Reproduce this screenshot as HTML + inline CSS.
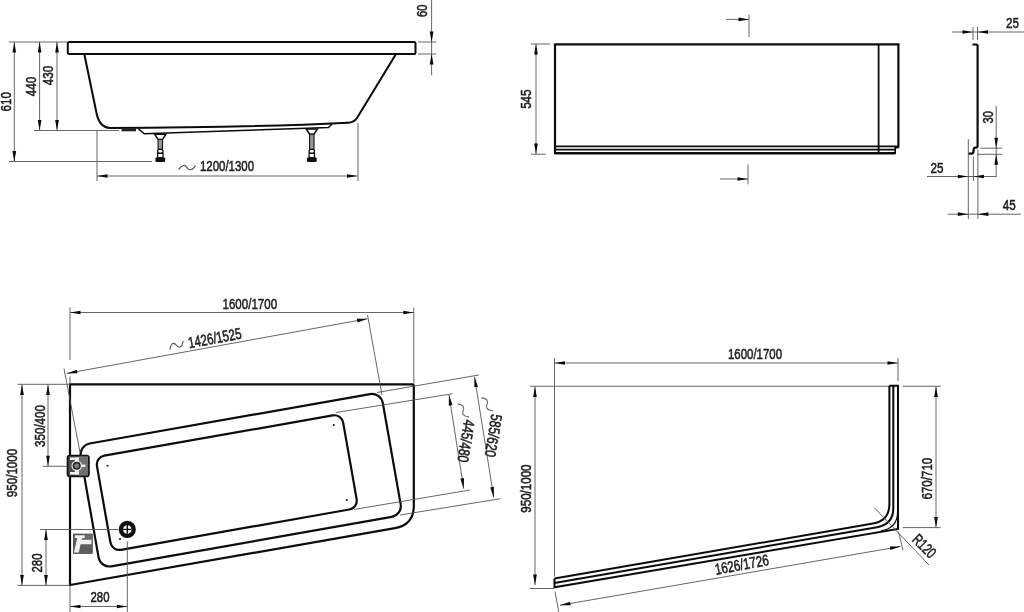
<!DOCTYPE html>
<html><head><meta charset="utf-8"><style>
html,body{margin:0;padding:0;background:#fff;width:1024px;height:612px;overflow:hidden}
svg{display:block;filter:grayscale(1)}
text{font-family:"Liberation Sans",sans-serif}
</style></head><body>
<svg width="1024" height="612" viewBox="0 0 1024 612">
<rect width="1024" height="612" fill="#fff"/>
<path d="M69.3,42 L414,42 Q415.5,42 415.5,43.5 L415.5,52.5 Q415.5,54 414,54 L69.3,54 Q67.8,54 67.8,52.5 L67.8,43.5 Q67.8,42 69.3,42 Z" stroke="#0c0c0c" stroke-width="2.0" fill="none" />
<path d="M84.3,54 L96.5,113 Q99.5,127.5 110,128 Q250,127.5 348,122.7 Q354,122.5 357,118 L396,54" stroke="#0c0c0c" stroke-width="2.05" fill="none" />
<path d="M138.2,128.6 L144.3,133.8 L328.5,127.5 L332,124" stroke="#0c0c0c" stroke-width="1.5" fill="none" />
<rect x="121.5" y="128.3" width="14.5" height="3" fill="#222"/>
<path d="M154.70000000000002,134.3 L165.9,134.3 L162.5,139.5 L158.10000000000002,139.5 Z" stroke="#0c0c0c" stroke-width="1.5" fill="#fff" />
<rect x="158.10000000000002" y="139.5" width="4.4" height="9.80" fill="#999" stroke="#111" stroke-width="1.1"/>
<rect x="157.60000000000002" y="149.3" width="5.4" height="4" rx="2" fill="#fff" stroke="#111" stroke-width="1.3"/>
<rect x="157.60000000000002" y="153.3" width="5.4" height="4.4" fill="#fff" stroke="#111" stroke-width="1.3"/>
<rect x="155.4" y="157.5" width="9.8" height="4.6" rx="1" fill="#111"/>
<path d="M306.2,129.0 L317.40000000000003,129.0 L314.0,134.2 L309.6,134.2 Z" stroke="#0c0c0c" stroke-width="1.5" fill="#fff" />
<rect x="309.6" y="134.2" width="4.4" height="15.10" fill="#999" stroke="#111" stroke-width="1.1"/>
<rect x="309.1" y="149.3" width="5.4" height="4" rx="2" fill="#fff" stroke="#111" stroke-width="1.3"/>
<rect x="309.1" y="153.3" width="5.4" height="4.4" fill="#fff" stroke="#111" stroke-width="1.3"/>
<rect x="306.90000000000003" y="157.5" width="9.8" height="4.6" rx="1" fill="#111"/>
<line x1="9.00" y1="42.00" x2="67.00" y2="42.00" stroke="#555" stroke-width="0.9"/>
<line x1="14.30" y1="42.00" x2="14.30" y2="161.50" stroke="#555" stroke-width="0.9"/>
<path d="M14.30,42.00 L16.15,52.50 L12.45,52.50 Z" fill="#0a0a0a"/>
<path d="M14.30,161.50 L12.45,151.00 L16.15,151.00 Z" fill="#0a0a0a"/>
<line x1="39.60" y1="42.00" x2="39.60" y2="130.40" stroke="#555" stroke-width="0.9"/>
<path d="M39.60,42.00 L41.45,52.50 L37.75,52.50 Z" fill="#0a0a0a"/>
<path d="M39.60,130.40 L37.75,119.90 L41.45,119.90 Z" fill="#0a0a0a"/>
<line x1="57.00" y1="42.00" x2="57.00" y2="130.40" stroke="#555" stroke-width="0.9"/>
<path d="M57.00,42.00 L58.85,52.50 L55.15,52.50 Z" fill="#0a0a0a"/>
<path d="M57.00,130.40 L55.15,119.90 L58.85,119.90 Z" fill="#0a0a0a"/>
<line x1="34.00" y1="130.50" x2="119.00" y2="130.50" stroke="#555" stroke-width="0.9"/>
<line x1="9.00" y1="161.50" x2="152.00" y2="161.50" stroke="#555" stroke-width="0.9"/>
<text x="0" y="4.95" text-anchor="middle" textLength="19.20" lengthAdjust="spacingAndGlyphs" font-size="15.5" fill="#1c1c1c" stroke="#1c1c1c" stroke-width="0.55" transform="translate(6.10,101.80) rotate(-90)">610</text>
<text x="0" y="4.95" text-anchor="middle" textLength="19.60" lengthAdjust="spacingAndGlyphs" font-size="15.5" fill="#1c1c1c" stroke="#1c1c1c" stroke-width="0.55" transform="translate(30.60,86.40) rotate(-90)">440</text>
<text x="0" y="4.95" text-anchor="middle" textLength="19.60" lengthAdjust="spacingAndGlyphs" font-size="15.5" fill="#1c1c1c" stroke="#1c1c1c" stroke-width="0.55" transform="translate(48.40,75.40) rotate(-90)">430</text>
<line x1="97.00" y1="131.00" x2="97.00" y2="181.00" stroke="#555" stroke-width="0.9"/>
<line x1="358.00" y1="123.00" x2="358.00" y2="181.00" stroke="#555" stroke-width="0.9"/>
<line x1="97.00" y1="176.00" x2="357.50" y2="176.00" stroke="#555" stroke-width="0.9"/>
<path d="M97.00,176.00 L107.50,174.15 L107.50,177.85 Z" fill="#0a0a0a"/>
<path d="M357.50,176.00 L347.00,177.85 L347.00,174.15 Z" fill="#0a0a0a"/>
<path d="M-8.50,2.16 C-5.10,-3.60 -1.70,-2.88 0,0 C1.70,2.88 5.10,3.60 8.50,-2.16" stroke="#555" stroke-width="1.1" fill="none" transform="translate(187.00,167.60) rotate(0)"/>
<text x="0" y="4.95" text-anchor="middle" textLength="54.20" lengthAdjust="spacingAndGlyphs" font-size="15.5" fill="#1c1c1c" stroke="#1c1c1c" stroke-width="0.55" transform="translate(227.00,166.50) rotate(0)">1200/1300</text>
<line x1="431.60" y1="0.00" x2="431.60" y2="75.20" stroke="#555" stroke-width="0.9"/>
<path d="M431.60,42.00 L429.75,31.50 L433.45,31.50 Z" fill="#0a0a0a"/>
<path d="M431.60,54.00 L433.45,64.50 L429.75,64.50 Z" fill="#0a0a0a"/>
<line x1="418.00" y1="42.00" x2="436.40" y2="42.00" stroke="#555" stroke-width="0.9"/>
<line x1="418.00" y1="54.00" x2="436.40" y2="54.00" stroke="#555" stroke-width="0.9"/>
<text x="0" y="4.95" text-anchor="middle" textLength="12.40" lengthAdjust="spacingAndGlyphs" font-size="15.5" fill="#1c1c1c" stroke="#1c1c1c" stroke-width="0.55" transform="translate(422.30,10.80) rotate(-90)">60</text>
<path d="M555,153.5 L555,44.4 L898.4,44.4 L898.4,147.8" stroke="#0c0c0c" stroke-width="2.2" fill="none" />
<path d="M898.4,147.8 L895.2,147.8 L895.2,154" stroke="#0c0c0c" stroke-width="1.6" fill="none" />
<line x1="878.60" y1="44.40" x2="878.60" y2="153.50" stroke="#0c0c0c" stroke-width="1.8"/>
<line x1="555.00" y1="146.30" x2="898.40" y2="146.30" stroke="#0c0c0c" stroke-width="1.8"/>
<line x1="555.00" y1="149.60" x2="895.20" y2="149.60" stroke="#0c0c0c" stroke-width="1.8"/>
<line x1="554.20" y1="153.30" x2="895.20" y2="153.30" stroke="#0c0c0c" stroke-width="2.4"/>
<line x1="536.00" y1="44.00" x2="536.00" y2="154.00" stroke="#555" stroke-width="0.9"/>
<path d="M536.00,44.00 L537.85,54.50 L534.15,54.50 Z" fill="#0a0a0a"/>
<path d="M536.00,154.00 L534.15,143.50 L537.85,143.50 Z" fill="#0a0a0a"/>
<line x1="531.00" y1="44.00" x2="550.00" y2="44.00" stroke="#555" stroke-width="0.9"/>
<line x1="531.00" y1="154.20" x2="546.00" y2="154.20" stroke="#555" stroke-width="0.9"/>
<text x="0" y="4.56" text-anchor="middle" textLength="19.30" lengthAdjust="spacingAndGlyphs" font-size="14.4" fill="#1c1c1c" stroke="#1c1c1c" stroke-width="0.55" transform="translate(526.20,99.20) rotate(-90)">545</text>
<line x1="749.00" y1="14.50" x2="749.00" y2="37.00" stroke="#555" stroke-width="0.9"/>
<line x1="726.00" y1="19.40" x2="749.00" y2="19.40" stroke="#555" stroke-width="0.9"/>
<path d="M749.00,19.40 L738.50,21.25 L738.50,17.55 Z" fill="#0a0a0a"/>
<line x1="748.00" y1="164.50" x2="748.00" y2="184.50" stroke="#555" stroke-width="0.9"/>
<line x1="720.00" y1="179.00" x2="748.00" y2="179.00" stroke="#555" stroke-width="0.9"/>
<path d="M748.00,179.00 L737.50,180.85 L737.50,177.15 Z" fill="#0a0a0a"/>
<path d="M972.5,44.5 L976.2,44.5 Q977.6,44.5 977.6,46 L977.6,146 Q977.6,147.7 976,147.7 L975.4,147.7 Q973.7,147.9 973.6,150 L973.4,152 Q973.2,153.6 971.5,153.6 L968.4,153.6" stroke="#0c0c0c" stroke-width="2.2" fill="none" />
<line x1="952.00" y1="32.00" x2="1024.00" y2="32.00" stroke="#555" stroke-width="0.9"/>
<line x1="973.00" y1="27.00" x2="973.00" y2="40.00" stroke="#555" stroke-width="0.9"/>
<line x1="977.50" y1="27.00" x2="977.50" y2="40.00" stroke="#555" stroke-width="0.9"/>
<path d="M973.00,32.00 L962.50,33.85 L962.50,30.15 Z" fill="#0a0a0a"/>
<path d="M977.50,32.00 L988.00,30.15 L988.00,33.85 Z" fill="#0a0a0a"/>
<text x="0" y="4.95" text-anchor="middle" textLength="13.00" lengthAdjust="spacingAndGlyphs" font-size="15.5" fill="#1c1c1c" stroke="#1c1c1c" stroke-width="0.55" transform="translate(1012.50,23.00) rotate(0)">25</text>
<line x1="996.20" y1="106.00" x2="996.20" y2="176.50" stroke="#555" stroke-width="0.9"/>
<path d="M996.20,148.20 L994.35,137.70 L998.05,137.70 Z" fill="#0a0a0a"/>
<path d="M996.20,154.30 L998.05,164.80 L994.35,164.80 Z" fill="#0a0a0a"/>
<line x1="980.20" y1="148.20" x2="1002.00" y2="148.20" stroke="#555" stroke-width="0.9"/>
<line x1="977.50" y1="154.30" x2="1002.00" y2="154.30" stroke="#555" stroke-width="0.9"/>
<text x="0" y="4.95" text-anchor="middle" textLength="12.40" lengthAdjust="spacingAndGlyphs" font-size="15.5" fill="#1c1c1c" stroke="#1c1c1c" stroke-width="0.55" transform="translate(987.60,117.30) rotate(-90)">30</text>
<line x1="927.00" y1="176.50" x2="996.60" y2="176.50" stroke="#555" stroke-width="0.9"/>
<line x1="968.30" y1="139.00" x2="968.30" y2="219.00" stroke="#555" stroke-width="0.9"/>
<line x1="973.40" y1="156.50" x2="973.40" y2="181.00" stroke="#555" stroke-width="0.9"/>
<path d="M968.30,176.50 L957.80,178.35 L957.80,174.65 Z" fill="#0a0a0a"/>
<path d="M973.40,176.50 L983.90,174.65 L983.90,178.35 Z" fill="#0a0a0a"/>
<text x="0" y="4.95" text-anchor="middle" textLength="13.00" lengthAdjust="spacingAndGlyphs" font-size="15.5" fill="#1c1c1c" stroke="#1c1c1c" stroke-width="0.55" transform="translate(937.00,167.60) rotate(0)">25</text>
<line x1="947.70" y1="214.20" x2="1020.60" y2="214.20" stroke="#555" stroke-width="0.9"/>
<line x1="977.90" y1="149.50" x2="977.90" y2="219.00" stroke="#555" stroke-width="0.9"/>
<path d="M968.30,214.20 L957.80,216.05 L957.80,212.35 Z" fill="#0a0a0a"/>
<path d="M977.90,214.20 L988.40,212.35 L988.40,216.05 Z" fill="#0a0a0a"/>
<text x="0" y="4.95" text-anchor="middle" textLength="13.00" lengthAdjust="spacingAndGlyphs" font-size="15.5" fill="#1c1c1c" stroke="#1c1c1c" stroke-width="0.55" transform="translate(1009.30,205.00) rotate(0)">45</text>
<path d="M70,384.3 L412,384.3 Q413.8,384.3 413.8,386 L413.8,506 Q413.8,524.8 395,528.1 L70,585 Z" stroke="#0c0c0c" stroke-width="2.2" fill="none" />
<rect x="87.35" y="417.85" width="306.70" height="124.70" rx="11" fill="none" stroke="#0c0c0c" stroke-width="2.2" transform="rotate(-10 240.70 480.20)"/>
<rect x="101.80" y="434.80" width="250.00" height="95.60" rx="9" fill="none" stroke="#0c0c0c" stroke-width="2.2" transform="rotate(-10 226.80 482.60)"/>
<circle cx="107.5" cy="465.75" r="1.1" fill="#222"/>
<circle cx="120" cy="539" r="1.1" fill="#222"/>
<circle cx="333.75" cy="425" r="1.1" fill="#222"/>
<circle cx="346.75" cy="500" r="1.1" fill="#222"/>
<rect x="67.5" y="455.5" width="21.4" height="20.9" rx="2.2" fill="#4a4a4a" stroke="#111" stroke-width="1.7"/>
<rect x="79" y="456.4" width="9" height="19.1" fill="#707070"/>
<rect x="70" y="457.5" width="8.8" height="2.5" fill="#f2f2f2"/>
<rect x="70" y="472" width="8.8" height="2.6" fill="#f2f2f2"/>
<rect x="75.2" y="457.5" width="3.6" height="17" fill="#f2f2f2"/>
<circle cx="76.7" cy="465.7" r="5.3" fill="#f2f2f2"/>
<rect x="80" y="464.6" width="5.4" height="2.3" fill="#f2f2f2"/>
<circle cx="76.7" cy="465.7" r="3.3" fill="#7a7a7a" stroke="#1a1a1a" stroke-width="1.5"/>
<rect x="73.3" y="534" width="19" height="19.6" fill="#5e5e5e" stroke="#333" stroke-width="0.6"/>
<rect x="82" y="534.5" width="10" height="5" fill="#6c6c6c"/>
<path d="M74.9,535.3 L84.7,535.3 L84.7,537.9 L82.3,537.9 L81.6,539.8 L91.5,539.8 L91.5,544.2 L80.6,544.2 L78.8,552.4 L73.9,552.4 L77.3,537.9 L74.9,537.9 Z" fill="#f0f0f0"/>
<circle cx="127.3" cy="529.4" r="6.4" fill="#fff" stroke="#111" stroke-width="4.3"/>
<path d="M123,529.4 L131.6,529.4 M127.3,525.1 L127.3,533.7" stroke="#111" stroke-width="1.4"/>
<line x1="70.00" y1="307.50" x2="70.00" y2="360.00" stroke="#555" stroke-width="0.9"/>
<line x1="413.75" y1="307.50" x2="413.75" y2="384.00" stroke="#555" stroke-width="0.9"/>
<line x1="70.00" y1="312.50" x2="413.75" y2="312.50" stroke="#555" stroke-width="0.9"/>
<path d="M70.00,312.50 L80.50,310.65 L80.50,314.35 Z" fill="#0a0a0a"/>
<path d="M413.75,312.50 L403.25,314.35 L403.25,310.65 Z" fill="#0a0a0a"/>
<text x="0" y="4.95" text-anchor="middle" textLength="54.50" lengthAdjust="spacingAndGlyphs" font-size="15.5" fill="#1c1c1c" stroke="#1c1c1c" stroke-width="0.55" transform="translate(249.80,303.90) rotate(0)">1600/1700</text>
<line x1="66.80" y1="373.40" x2="367.50" y2="318.75" stroke="#555" stroke-width="0.9"/>
<path d="M66.80,373.40 L76.80,369.70 L77.46,373.34 Z" fill="#0a0a0a"/>
<path d="M367.50,318.75 L357.50,322.45 L356.84,318.81 Z" fill="#0a0a0a"/>
<line x1="70.00" y1="376.50" x2="70.00" y2="384.00" stroke="#555" stroke-width="0.9"/>
<line x1="64.00" y1="368.75" x2="80.00" y2="452.40" stroke="#555" stroke-width="0.9"/>
<line x1="367.50" y1="315.00" x2="382.00" y2="395.00" stroke="#555" stroke-width="0.9"/>
<path d="M-7.50,2.61 C-4.50,-4.35 -1.50,-3.48 0,0 C1.50,3.48 4.50,4.35 7.50,-2.61" stroke="#555" stroke-width="1.1" fill="none" transform="translate(176.50,345.30) rotate(-14)"/>
<text x="0" y="4.95" text-anchor="middle" textLength="54.00" lengthAdjust="spacingAndGlyphs" font-size="15.5" fill="#1c1c1c" stroke="#1c1c1c" stroke-width="0.55" transform="translate(214.80,338.40) rotate(-10.6)">1426/1525</text>
<line x1="17.50" y1="384.30" x2="70.00" y2="384.30" stroke="#555" stroke-width="0.9"/>
<line x1="17.50" y1="585.40" x2="70.00" y2="585.40" stroke="#555" stroke-width="0.9"/>
<line x1="22.00" y1="384.50" x2="22.00" y2="585.40" stroke="#555" stroke-width="0.9"/>
<path d="M22.00,384.50 L23.85,395.00 L20.15,395.00 Z" fill="#0a0a0a"/>
<path d="M22.00,585.40 L20.15,574.90 L23.85,574.90 Z" fill="#0a0a0a"/>
<text x="0" y="4.95" text-anchor="middle" textLength="48.50" lengthAdjust="spacingAndGlyphs" font-size="15.5" fill="#1c1c1c" stroke="#1c1c1c" stroke-width="0.55" transform="translate(12.50,473.00) rotate(-90)">950/1000</text>
<line x1="48.00" y1="384.50" x2="48.00" y2="466.30" stroke="#555" stroke-width="0.9"/>
<path d="M48.00,384.50 L49.85,395.00 L46.15,395.00 Z" fill="#0a0a0a"/>
<path d="M48.00,466.30 L46.15,455.80 L49.85,455.80 Z" fill="#0a0a0a"/>
<line x1="42.50" y1="466.30" x2="67.00" y2="466.30" stroke="#555" stroke-width="0.9"/>
<text x="0" y="4.95" text-anchor="middle" textLength="42.00" lengthAdjust="spacingAndGlyphs" font-size="15.5" fill="#1c1c1c" stroke="#1c1c1c" stroke-width="0.55" transform="translate(40.00,426.00) rotate(-90)">350/400</text>
<line x1="40.00" y1="529.50" x2="118.50" y2="529.50" stroke="#555" stroke-width="0.9"/>
<line x1="46.00" y1="529.50" x2="46.00" y2="585.40" stroke="#555" stroke-width="0.9"/>
<path d="M46.00,529.50 L47.85,540.00 L44.15,540.00 Z" fill="#0a0a0a"/>
<path d="M46.00,585.40 L44.15,574.90 L47.85,574.90 Z" fill="#0a0a0a"/>
<text x="0" y="4.95" text-anchor="middle" textLength="19.00" lengthAdjust="spacingAndGlyphs" font-size="15.5" fill="#1c1c1c" stroke="#1c1c1c" stroke-width="0.55" transform="translate(37.30,563.00) rotate(-90)">280</text>
<line x1="70.00" y1="585.40" x2="70.00" y2="612.00" stroke="#555" stroke-width="0.9"/>
<line x1="127.30" y1="541.50" x2="127.30" y2="612.00" stroke="#555" stroke-width="0.9"/>
<line x1="70.00" y1="606.50" x2="127.30" y2="606.50" stroke="#555" stroke-width="0.9"/>
<path d="M70.00,606.50 L80.50,604.65 L80.50,608.35 Z" fill="#0a0a0a"/>
<path d="M127.30,606.50 L116.80,608.35 L116.80,604.65 Z" fill="#0a0a0a"/>
<text x="0" y="4.95" text-anchor="middle" textLength="19.00" lengthAdjust="spacingAndGlyphs" font-size="15.5" fill="#1c1c1c" stroke="#1c1c1c" stroke-width="0.55" transform="translate(100.00,597.00) rotate(0)">280</text>
<line x1="474.50" y1="376.70" x2="493.75" y2="497.50" stroke="#555" stroke-width="0.9"/>
<path d="M474.50,376.70 L477.98,386.78 L474.33,387.36 Z" fill="#0a0a0a"/>
<path d="M493.75,497.50 L490.27,487.42 L493.92,486.84 Z" fill="#0a0a0a"/>
<line x1="377.00" y1="392.50" x2="478.90" y2="375.00" stroke="#555" stroke-width="0.9"/>
<line x1="400.00" y1="515.00" x2="500.00" y2="498.75" stroke="#555" stroke-width="0.9"/>
<text x="0" y="4.95" text-anchor="middle" textLength="43.00" lengthAdjust="spacingAndGlyphs" font-size="15.5" fill="#1c1c1c" stroke="#1c1c1c" stroke-width="0.55" transform="translate(493.00,435.60) rotate(99.3)">585/620</text>
<path d="M-8.50,1.98 C-5.10,-3.30 -1.70,-2.64 0,0 C1.70,2.64 5.10,3.30 8.50,-1.98" stroke="#666" stroke-width="1.1" fill="none" transform="translate(487.00,404.30) rotate(61)"/>
<line x1="449.00" y1="395.00" x2="463.75" y2="488.75" stroke="#555" stroke-width="0.9"/>
<path d="M449.00,395.00 L452.46,405.08 L448.80,405.66 Z" fill="#0a0a0a"/>
<path d="M463.75,488.75 L460.29,478.67 L463.95,478.09 Z" fill="#0a0a0a"/>
<line x1="336.00" y1="412.50" x2="452.50" y2="393.75" stroke="#555" stroke-width="0.9"/>
<line x1="353.75" y1="509.50" x2="470.00" y2="490.00" stroke="#555" stroke-width="0.9"/>
<text x="0" y="4.95" text-anchor="middle" textLength="43.00" lengthAdjust="spacingAndGlyphs" font-size="15.5" fill="#1c1c1c" stroke="#1c1c1c" stroke-width="0.55" transform="translate(465.70,440.90) rotate(99.3)">445/480</text>
<path d="M-8.50,1.98 C-5.10,-3.30 -1.70,-2.64 0,0 C1.70,2.64 5.10,3.30 8.50,-1.98" stroke="#666" stroke-width="1.1" fill="none" transform="translate(463.20,410.40) rotate(61)"/>
<line x1="554.50" y1="358.00" x2="554.50" y2="576.50" stroke="#555" stroke-width="0.9"/>
<line x1="898.00" y1="358.00" x2="898.00" y2="381.00" stroke="#555" stroke-width="0.9"/>
<line x1="554.50" y1="363.00" x2="898.00" y2="363.00" stroke="#555" stroke-width="0.9"/>
<path d="M554.50,363.00 L565.00,361.15 L565.00,364.85 Z" fill="#0a0a0a"/>
<path d="M898.00,363.00 L887.50,364.85 L887.50,361.15 Z" fill="#0a0a0a"/>
<text x="0" y="4.95" text-anchor="middle" textLength="54.00" lengthAdjust="spacingAndGlyphs" font-size="15.5" fill="#1c1c1c" stroke="#1c1c1c" stroke-width="0.55" transform="translate(755.00,354.50) rotate(0)">1600/1700</text>
<line x1="530.00" y1="386.25" x2="889.00" y2="386.25" stroke="#555" stroke-width="0.9"/>
<line x1="902.50" y1="386.25" x2="941.00" y2="386.25" stroke="#555" stroke-width="0.9"/>
<line x1="535.00" y1="386.50" x2="535.00" y2="585.00" stroke="#555" stroke-width="0.9"/>
<path d="M535.00,386.50 L536.85,397.00 L533.15,397.00 Z" fill="#0a0a0a"/>
<path d="M535.00,585.00 L533.15,574.50 L536.85,574.50 Z" fill="#0a0a0a"/>
<line x1="530.00" y1="588.50" x2="554.00" y2="588.50" stroke="#555" stroke-width="0.9"/>
<text x="0" y="4.48" text-anchor="middle" textLength="48.20" lengthAdjust="spacingAndGlyphs" font-size="14.2" fill="#1c1c1c" stroke="#1c1c1c" stroke-width="0.55" transform="translate(526.20,488.60) rotate(-90)">950/1000</text>
<path d="M889.4,385.7 L898,385.7 L898,529 L554.5,587.30 L554.5,578.5" stroke="#0c0c0c" stroke-width="2.05" fill="none" />
<path d="M889.4,385.7 L889.4,504 Q889.4,520.66 873,523.50 L554.5,578.5" stroke="#0c0c0c" stroke-width="2.05" fill="none" />
<path d="M893.3,385.7 L893.3,508 Q893.3,524.39 877,527.20 L554.5,582.9" stroke="#0c0c0c" stroke-width="2.05" fill="none" />
<path d="M897.6,512 Q897.6,528.05 881,530.91" stroke="#0c0c0c" stroke-width="1.2" fill="none" />
<line x1="902.70" y1="527.60" x2="940.50" y2="527.60" stroke="#555" stroke-width="0.9"/>
<line x1="936.00" y1="386.50" x2="936.00" y2="527.40" stroke="#555" stroke-width="0.9"/>
<path d="M936.00,386.50 L937.85,397.00 L934.15,397.00 Z" fill="#0a0a0a"/>
<path d="M936.00,527.40 L934.15,516.90 L937.85,516.90 Z" fill="#0a0a0a"/>
<text x="0" y="4.95" text-anchor="middle" textLength="41.80" lengthAdjust="spacingAndGlyphs" font-size="15.5" fill="#1c1c1c" stroke="#1c1c1c" stroke-width="0.55" transform="translate(927.20,478.60) rotate(-90)">670/710</text>
<line x1="874.20" y1="507.50" x2="929.00" y2="565.00" stroke="#555" stroke-width="0.9"/>
<text x="0" y="4.95" text-anchor="middle" textLength="26.50" lengthAdjust="spacingAndGlyphs" font-size="15.5" fill="#1c1c1c" stroke="#1c1c1c" stroke-width="0.55" transform="translate(924.00,546.30) rotate(45)">R120</text>
<line x1="560.00" y1="605.25" x2="900.50" y2="546.50" stroke="#555" stroke-width="0.9"/>
<path d="M560.00,605.25 L570.03,601.64 L570.66,605.29 Z" fill="#0a0a0a"/>
<path d="M900.50,546.50 L890.47,550.11 L889.84,546.46 Z" fill="#0a0a0a"/>
<line x1="555.00" y1="591.50" x2="558.75" y2="612.00" stroke="#555" stroke-width="0.9"/>
<line x1="898.50" y1="531.50" x2="903.00" y2="550.25" stroke="#555" stroke-width="0.9"/>
<text x="0" y="4.95" text-anchor="middle" textLength="54.50" lengthAdjust="spacingAndGlyphs" font-size="15.5" fill="#1c1c1c" stroke="#1c1c1c" stroke-width="0.55" transform="translate(741.80,564.90) rotate(-10.4)">1626/1726</text>
</svg>
</body></html>
